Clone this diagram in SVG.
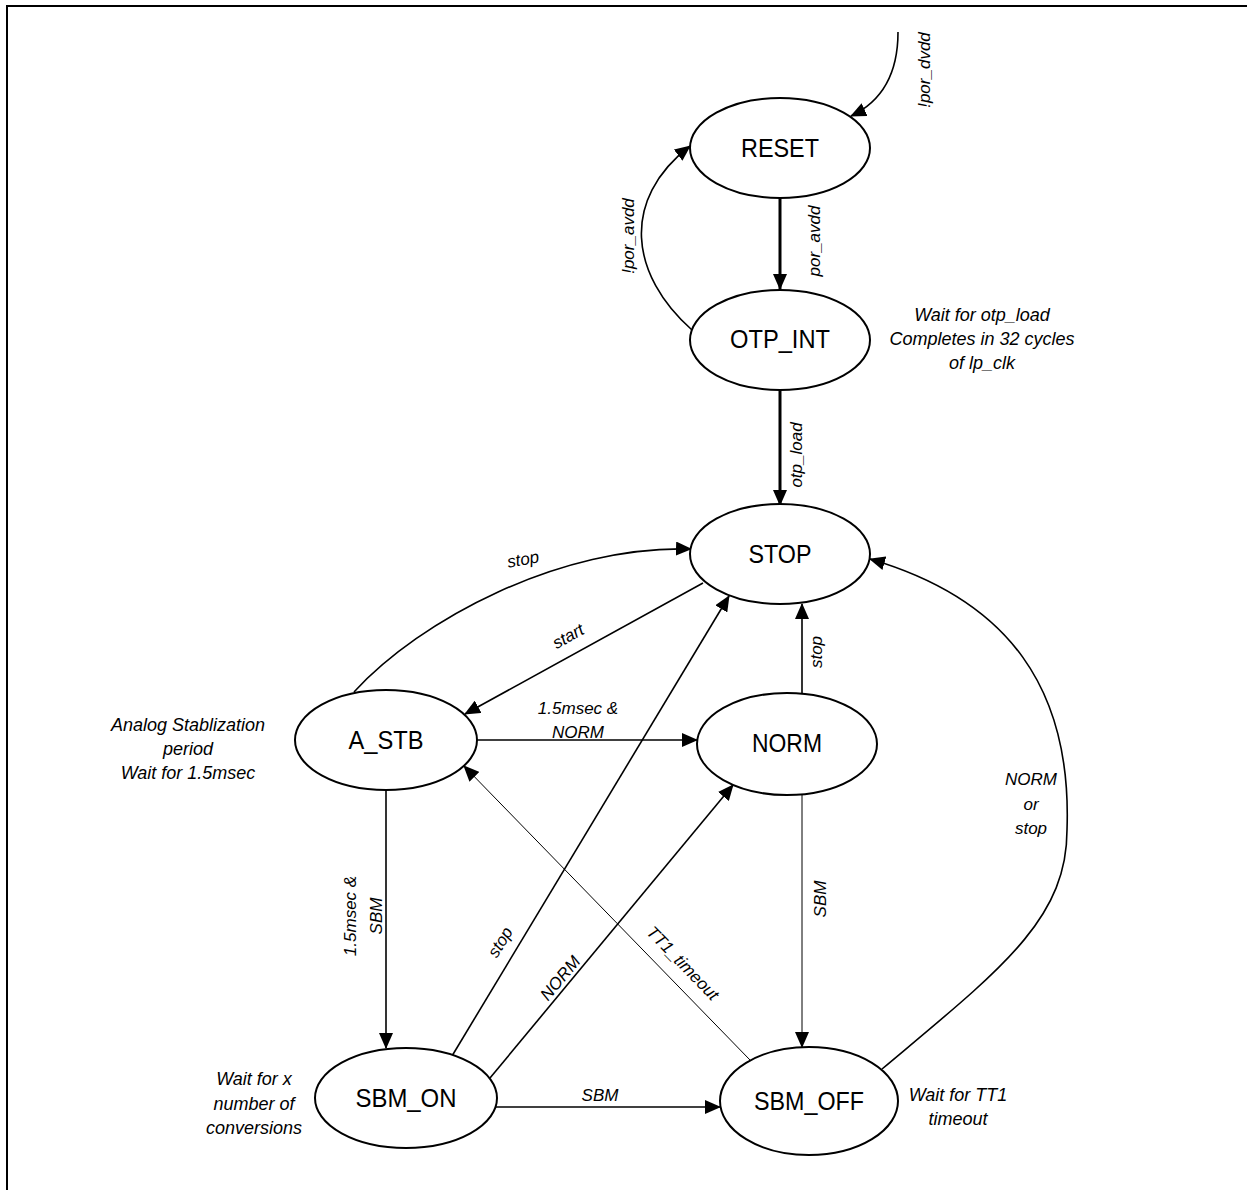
<svg xmlns="http://www.w3.org/2000/svg" width="1247" height="1190" viewBox="0 0 1247 1190">
<style>
.node ellipse{fill:#fff;stroke:#000;stroke-width:2}
.node text{font-family:"Liberation Sans",Arial,sans-serif;font-size:26px;text-anchor:middle;fill:#000}
.e{fill:none;stroke:#000;stroke-width:1.6}
.thick{stroke-width:3}
.thin{stroke-width:1}
.lbl{font-family:"Liberation Sans",Arial,sans-serif;font-style:italic;font-size:17px;fill:#000;text-anchor:middle}
.note{font-family:"Liberation Sans",Arial,sans-serif;font-style:italic;font-size:18px;fill:#000;text-anchor:middle}
</style>
<defs>
<marker id="ah" markerUnits="userSpaceOnUse" viewBox="0 0 16 14" markerWidth="16" markerHeight="14" refX="15" refY="7" orient="auto">
<path d="M0,0 L16,7 L0,14 z" fill="#000"/>
</marker>
</defs>
<rect width="1247" height="1190" fill="#fff"/>
<path d="M7,1190 L7,6 L1247,6" fill="none" stroke="#000" stroke-width="2"/>

<g id="connectors">
<path class="e" d="M898,32 C898,70 885,100 851,116" marker-end="url(#ah)"/>
<path class="e" d="M692,330 C630,275 620,200 690,146" marker-end="url(#ah)"/>
<path class="e thick" d="M780,198 L780,289" marker-end="url(#ah)"/>
<path class="e thick" d="M780,390 L780,505" marker-end="url(#ah)"/>
<path class="e" d="M354,692 C420,620 560,545 691,549" marker-end="url(#ah)"/>
<path class="e" d="M703,583 L465,714" marker-end="url(#ah)"/>
<path class="e" d="M477,740 L697,740" marker-end="url(#ah)"/>
<path class="e" d="M802,693 L802,604" marker-end="url(#ah)"/>
<path class="e" d="M882,1069 C1000,970 1067,920 1067,830 C1072,690 1010,600 870,559" marker-end="url(#ah)"/>
<path class="e" d="M386,790 L386,1048" marker-end="url(#ah)"/>
<path class="e" d="M452,1056 L729,596" marker-end="url(#ah)"/>
<path class="e" d="M490,1078 L733,785" marker-end="url(#ah)"/>
<path class="e thin" d="M750,1060 L464,766" marker-end="url(#ah)"/>
<path class="e thin" d="M802,794 L802,1047" marker-end="url(#ah)"/>
<path class="e" d="M496,1107 L720,1107" marker-end="url(#ah)"/>

<text class="lbl" transform="translate(930,70) rotate(-90)">!por_dvdd</text>
<text class="lbl" transform="translate(634,236) rotate(-90)">!por_avdd</text>
<text class="lbl" transform="translate(820,241) rotate(-90)">por_avdd</text>
<text class="lbl" transform="translate(802,455) rotate(-90)">otp_load</text>
<text class="lbl" transform="translate(524,565) rotate(-10)">stop</text>
<text class="lbl" transform="translate(568,636) rotate(-29)" y="6">start</text>
<text class="lbl" x="578" y="714">1.5msec &amp;</text>
<text class="lbl" x="578" y="738">NORM</text>
<text class="lbl" transform="translate(822,652) rotate(-90)">stop</text>
<text class="lbl" x="1031" y="785">NORM</text>
<text class="lbl" x="1031" y="810">or</text>
<text class="lbl" x="1031" y="834">stop</text>
<text class="lbl" transform="translate(369,916) rotate(-90)"><tspan x="0" y="-13">1.5msec &amp;</tspan><tspan x="0" y="13">SBM</tspan></text>
<text class="lbl" transform="translate(500,942) rotate(-58.8)" y="6">stop</text>
<text class="lbl" transform="translate(560,978) rotate(-50.3)" y="6">NORM</text>
<text class="lbl" transform="translate(683,963) rotate(45.9)" y="6">TT1_timeout</text>
<text class="lbl" transform="translate(826,899) rotate(-90)">SBM</text>
<text class="lbl" x="600" y="1101">SBM</text>
</g>

<g id="RESET" class="node"><ellipse cx="780" cy="148" rx="90" ry="50"/><text x="780" y="157" textLength="78" lengthAdjust="spacingAndGlyphs">RESET</text></g>
<g id="OTP_INT" class="node"><ellipse cx="780" cy="340" rx="90" ry="50"/><text x="780" y="348" textLength="100" lengthAdjust="spacingAndGlyphs">OTP_INT</text></g>
<g id="STOP" class="node"><ellipse cx="780" cy="554" rx="90" ry="50"/><text x="780" y="563" textLength="63" lengthAdjust="spacingAndGlyphs">STOP</text></g>
<g id="A_STB" class="node"><ellipse cx="386" cy="740" rx="91" ry="50"/><text x="386" y="749" textLength="75" lengthAdjust="spacingAndGlyphs">A_STB</text></g>
<g id="NORM" class="node"><ellipse cx="787" cy="744" rx="90" ry="51"/><text x="787" y="752" textLength="70" lengthAdjust="spacingAndGlyphs">NORM</text></g>
<g id="SBM_ON" class="node"><ellipse cx="406" cy="1098" rx="91" ry="50"/><text x="406" y="1107" textLength="101" lengthAdjust="spacingAndGlyphs">SBM_ON</text></g>
<g id="SBM_OFF" class="node"><ellipse cx="809" cy="1101" rx="89" ry="54"/><text x="809" y="1110" textLength="110" lengthAdjust="spacingAndGlyphs">SBM_OFF</text></g>

<g id="notes">
<text class="note" x="982" y="321">Wait for otp_load</text>
<text class="note" x="982" y="345">Completes in 32 cycles</text>
<text class="note" x="982" y="369">of lp_clk</text>
<text class="note" x="188" y="731">Analog Stablization</text>
<text class="note" x="188" y="755">period</text>
<text class="note" x="188" y="779">Wait for 1.5msec</text>
<text class="note" x="254" y="1085">Wait for x</text>
<text class="note" x="254" y="1110">number of</text>
<text class="note" x="254" y="1134">conversions</text>
<text class="note" x="958" y="1101">Wait for TT1</text>
<text class="note" x="958" y="1125">timeout</text>
</g>
</svg>
